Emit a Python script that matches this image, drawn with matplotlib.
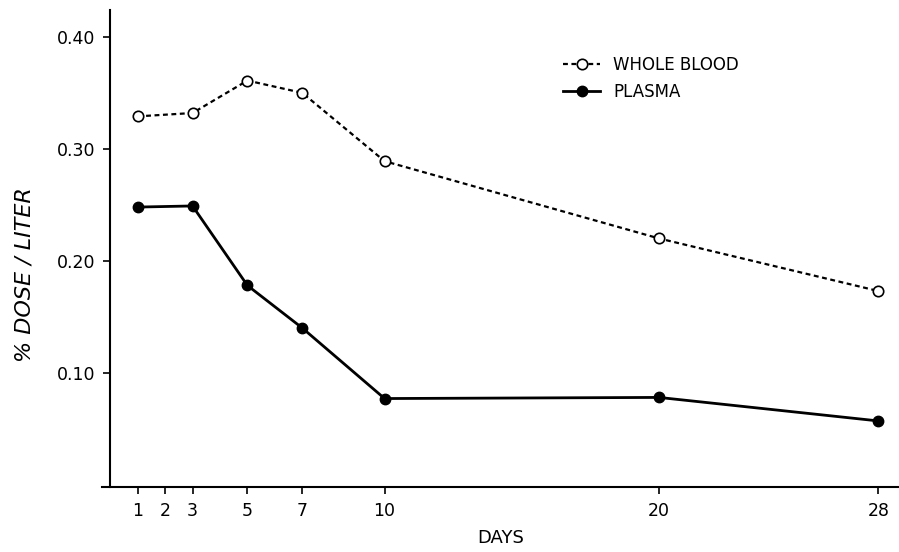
import matplotlib.pyplot as plt
from matplotlib.lines import Line2D

days = [1, 3, 5, 7, 10, 20, 28]
whole_blood = [0.329, 0.332, 0.361, 0.350, 0.289, 0.220, 0.173]
plasma = [0.248, 0.249, 0.178, 0.140, 0.077, 0.078, 0.057]

x_ticks = [1, 2, 3, 5, 7, 10, 20, 28]
y_ticks = [0.10, 0.20, 0.30, 0.40]
y_tick_labels = ['0.10', '0.20', '0.30', '0.40']


def plot():
    fig = plt.figure(figsize=(8.99, 5.52), dpi=100)
    ax = fig.add_axes([102 / 899, 65 / 552, 797 / 899, 477 / 552])

    ax.plot(days, whole_blood, ls=(0, (2.2, 1.6)), lw=1.6, color='k',
            marker='o', ms=7.5, mfc='white', mec='k', mew=1.2, zorder=3)
    ax.plot(days, plasma, ls='-', lw=2.0, color='k',
            marker='o', ms=7.5, mfc='k', mec='k', zorder=3)

    ax.set_xlim(-0.3, 28.75)
    ax.set_ylim(-0.002, 0.424)
    ax.spines['left'].set_position(('data', 0))
    ax.spines['top'].set_visible(False)
    ax.spines['right'].set_visible(False)
    ax.spines['left'].set_linewidth(1.5)
    ax.spines['bottom'].set_linewidth(1.5)

    ax.set_xticks(x_ticks)
    ax.set_xticklabels([str(d) for d in x_ticks])
    ax.set_yticks(y_ticks)
    ax.set_yticklabels(y_tick_labels)
    ax.tick_params(axis='both', direction='out', length=5, width=1.2,
                   labelsize=12.5, pad=6)

    ax.set_xlabel('DAYS', fontsize=13, labelpad=6)
    ax.set_ylabel('% DOSE / LITER', fontsize=16, style='italic')
    ax.yaxis.set_label_coords(-0.085, 0.445)

    handles = [
        Line2D([], [], ls=(0, (2.2, 1.6)), lw=1.6, color='k', marker='o',
               ms=7.5, mfc='white', mec='k', mew=1.2),
        Line2D([], [], ls='-', lw=2.0, color='k', marker='o', ms=7.5, mfc='k'),
    ]
    ax.legend(handles, ['WHOLE BLOOD', 'PLASMA'], loc='upper left',
              bbox_to_anchor=(0.56, 0.935), frameon=False, fontsize=12,
              handlelength=2.2, handletextpad=0.8, labelspacing=0.55)

    fig.savefig('out.png', dpi=100)


def main():
    plot()


if __name__ == '__main__':
    main()
